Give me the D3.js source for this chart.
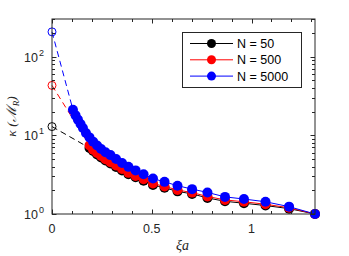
<!DOCTYPE html>
<html>
<head>
<meta charset="utf-8">
<script src="https://cdn.jsdelivr.net/npm/d3@7"></script>
<style>
  body { margin: 0; background: #fff; }
  text { font-family: "Liberation Sans", Arial, sans-serif; fill: #262626; }
</style>
</head>
<body>
<div id="chart"></div>
<script>
// xi*a sample points of the filled markers
var xiA = [0.105, 0.118, 0.130, 0.143, 0.155, 0.170, 0.188, 0.206, 0.226, 0.246,
           0.268, 0.293, 0.321, 0.351, 0.383, 0.419, 0.459, 0.506, 0.564, 0.629,
           0.702, 0.779, 0.867, 0.962, 1.070, 1.188, 1.318];

// condition number, N = 5000 (all 27 points)
var kappa5000 = [21.1, 17.9, 15.8, 13.9, 12.4, 10.7, 9.4, 8.3, 7.4, 6.7,
                 6.1, 5.6, 5.0, 4.45, 3.97, 3.58, 3.2, 2.82, 2.56, 2.29,
                 2.07, 1.88, 1.65, 1.55, 1.43, 1.24, 1.0];
// N = 500 and N = 50 start at the 7th xi*a value
var kappa500 = [7.44, 6.57, 5.94, 5.45, 4.97, 4.56, 4.13, 3.73, 3.33, 3.05,
                2.76, 2.44, 2.24, 2.02, 1.87, 1.67, 1.51, 1.43, 1.33, 1.20, 1.0];
var kappa50 = [6.9, 6.3, 5.7, 5.23, 4.77, 4.38, 3.96, 3.58, 3.2, 2.93,
               2.65, 2.34, 2.15, 1.94, 1.8, 1.6, 1.45, 1.37, 1.28, 1.17, 1.0];

// value at xi*a = 0 (open circles)
var kappaZero = { "N = 50": 12.9, "N = 500": 43, "N = 5000": 206 };

var xTicks = [0, 0.5, 1];
var yTicks = [1, 10, 100];

var series = [
  { name: "N = 50", color: "#000000", xs: xiA.slice(6), ys: kappa50 },
  { name: "N = 500", color: "#ff0000", xs: xiA.slice(6), ys: kappa500 },
  { name: "N = 5000", color: "#0000ff", xs: xiA, ys: kappa5000 }
];

var W = 349, H = 256;
var mLeft = 52, mRight = 315, mTop = 19, mBottom = 214;

var svg = d3.select("#chart").append("svg")
    .attr("width", W).attr("height", H);

var x = d3.scaleLinear().domain([0, 1.318]).range([mLeft, mRight]);
var y = d3.scaleLog().domain([1, 300]).range([mBottom, mTop]);

var axisColor = "#262626";

// clip so nothing leaks outside the box
svg.append("defs").append("clipPath").attr("id", "clip")
  .append("rect").attr("x", mLeft - 6).attr("y", mTop).attr("width", mRight - mLeft + 12).attr("height", mBottom - mTop + 6);

var plot = svg.append("g").attr("clip-path", "url(#clip)");

series.forEach(function (s) {
  var pts = s.xs.map(function (v, i) { return [v, s.ys[i]]; });
  // dashed link from xi*a = 0 to the first computed point
  plot.append("line")
      .attr("x1", x(0)).attr("y1", y(kappaZero[s.name]))
      .attr("x2", x(pts[0][0])).attr("y2", y(pts[0][1]))
      .attr("stroke", s.color).attr("stroke-width", 1)
      .attr("stroke-dasharray", "6,4");
  plot.append("circle")
      .attr("cx", x(0)).attr("cy", y(kappaZero[s.name])).attr("r", 4)
      .attr("fill", "none").attr("stroke", s.color).attr("stroke-width", 1);
  plot.append("path").datum(pts)
      .attr("fill", "none").attr("stroke", s.color).attr("stroke-width", 1)
      .attr("d", d3.line().x(function (d) { return x(d[0]); }).y(function (d) { return y(d[1]); }));
  plot.selectAll(null).data(pts).enter().append("circle")
      .attr("cx", function (d) { return x(d[0]); })
      .attr("cy", function (d) { return y(d[1]); })
      .attr("r", 5).attr("fill", s.color);
});

// axes box
var axes = svg.append("g");
axes.append("rect")
    .attr("x", mLeft).attr("y", mTop).attr("width", mRight - mLeft).attr("height", mBottom - mTop)
    .attr("fill", "none").attr("stroke", axisColor).attr("stroke-width", 1);

// x ticks: minor every 0.1, major at labelled ticks
d3.range(0, 1.35, 0.1).forEach(function (v) {
  var major = xTicks.some(function (t) { return Math.abs(t - v) < 1e-6; });
  var len = major ? 4.5 : 3;
  var px = Math.round(x(v)) + 0.5;
  axes.append("line").attr("x1", px).attr("x2", px).attr("y1", mBottom).attr("y2", mBottom - len).attr("stroke", axisColor);
  axes.append("line").attr("x1", px).attr("x2", px).attr("y1", mTop).attr("y2", mTop + len).attr("stroke", axisColor);
});
xTicks.forEach(function (v) {
  axes.append("text").attr("x", x(v)).attr("y", mBottom + 19)
      .attr("text-anchor", "middle").style("font-size", "12.5px").text(v);
});

// y ticks: log minors
yTicks.forEach(function (t) {
  for (var m = 1; m <= 9; m++) {
    var v = t * m;
    if (v > 300) break;
    var len = m === 1 ? 4.5 : 3;
    var py = Math.round(y(v)) + 0.5;
    axes.append("line").attr("x1", mLeft).attr("x2", mLeft + len).attr("y1", py).attr("y2", py).attr("stroke", axisColor);
    axes.append("line").attr("x1", mRight).attr("x2", mRight - len).attr("y1", py).attr("y2", py).attr("stroke", axisColor);
  }
  var lab = axes.append("text").attr("x", mLeft - 8).attr("y", y(t) + 5)
      .attr("text-anchor", "end").style("font-size", "12.5px");
  lab.append("tspan").text("10");
  lab.append("tspan").attr("dy", -6).attr("dx", 1).style("font-size", "9px").text(Math.round(Math.log10(t)));
});

// axis titles
svg.append("text").attr("x", (mLeft + mRight) / 2 - 1).attr("y", 250)
    .attr("text-anchor", "middle")
    .style("font-family", "'Liberation Serif', 'DejaVu Serif', serif")
    .style("font-style", "italic").style("font-size", "14px")
    .text("ξa");

var yl = svg.append("text")
    .attr("transform", "translate(16," + ((mTop + mBottom) / 2) + ") rotate(-90)")
    .attr("text-anchor", "middle")
    .style("font-family", "'Liberation Serif', 'DejaVu Serif', serif")
    .style("font-style", "italic").style("font-size", "13.5px");
yl.append("tspan").text("κ (ℳ");
yl.append("tspan").attr("dy", 3).style("font-size", "9px").text("R");
yl.append("tspan").attr("dy", -3).text(")");

// legend
var lg = svg.append("g");
lg.append("rect").attr("x", 182.5).attr("y", 32.5).attr("width", 119).attr("height", 55)
    .attr("fill", "#fff").attr("stroke", axisColor).attr("stroke-width", 1);
series.forEach(function (s, i) {
  var ly = 43.5 + i * 16.3;
  lg.append("line").attr("x1", 190).attr("x2", 233).attr("y1", ly).attr("y2", ly)
      .attr("stroke", s.color).attr("stroke-width", 1);
  lg.append("circle").attr("cx", 211.5).attr("cy", ly).attr("r", 4.5).attr("fill", s.color);
  lg.append("text").attr("x", 237).attr("y", ly + 4.5).style("font-size", "12.5px").style("fill", "#000").text(s.name);
});
</script>
</body>
</html>
